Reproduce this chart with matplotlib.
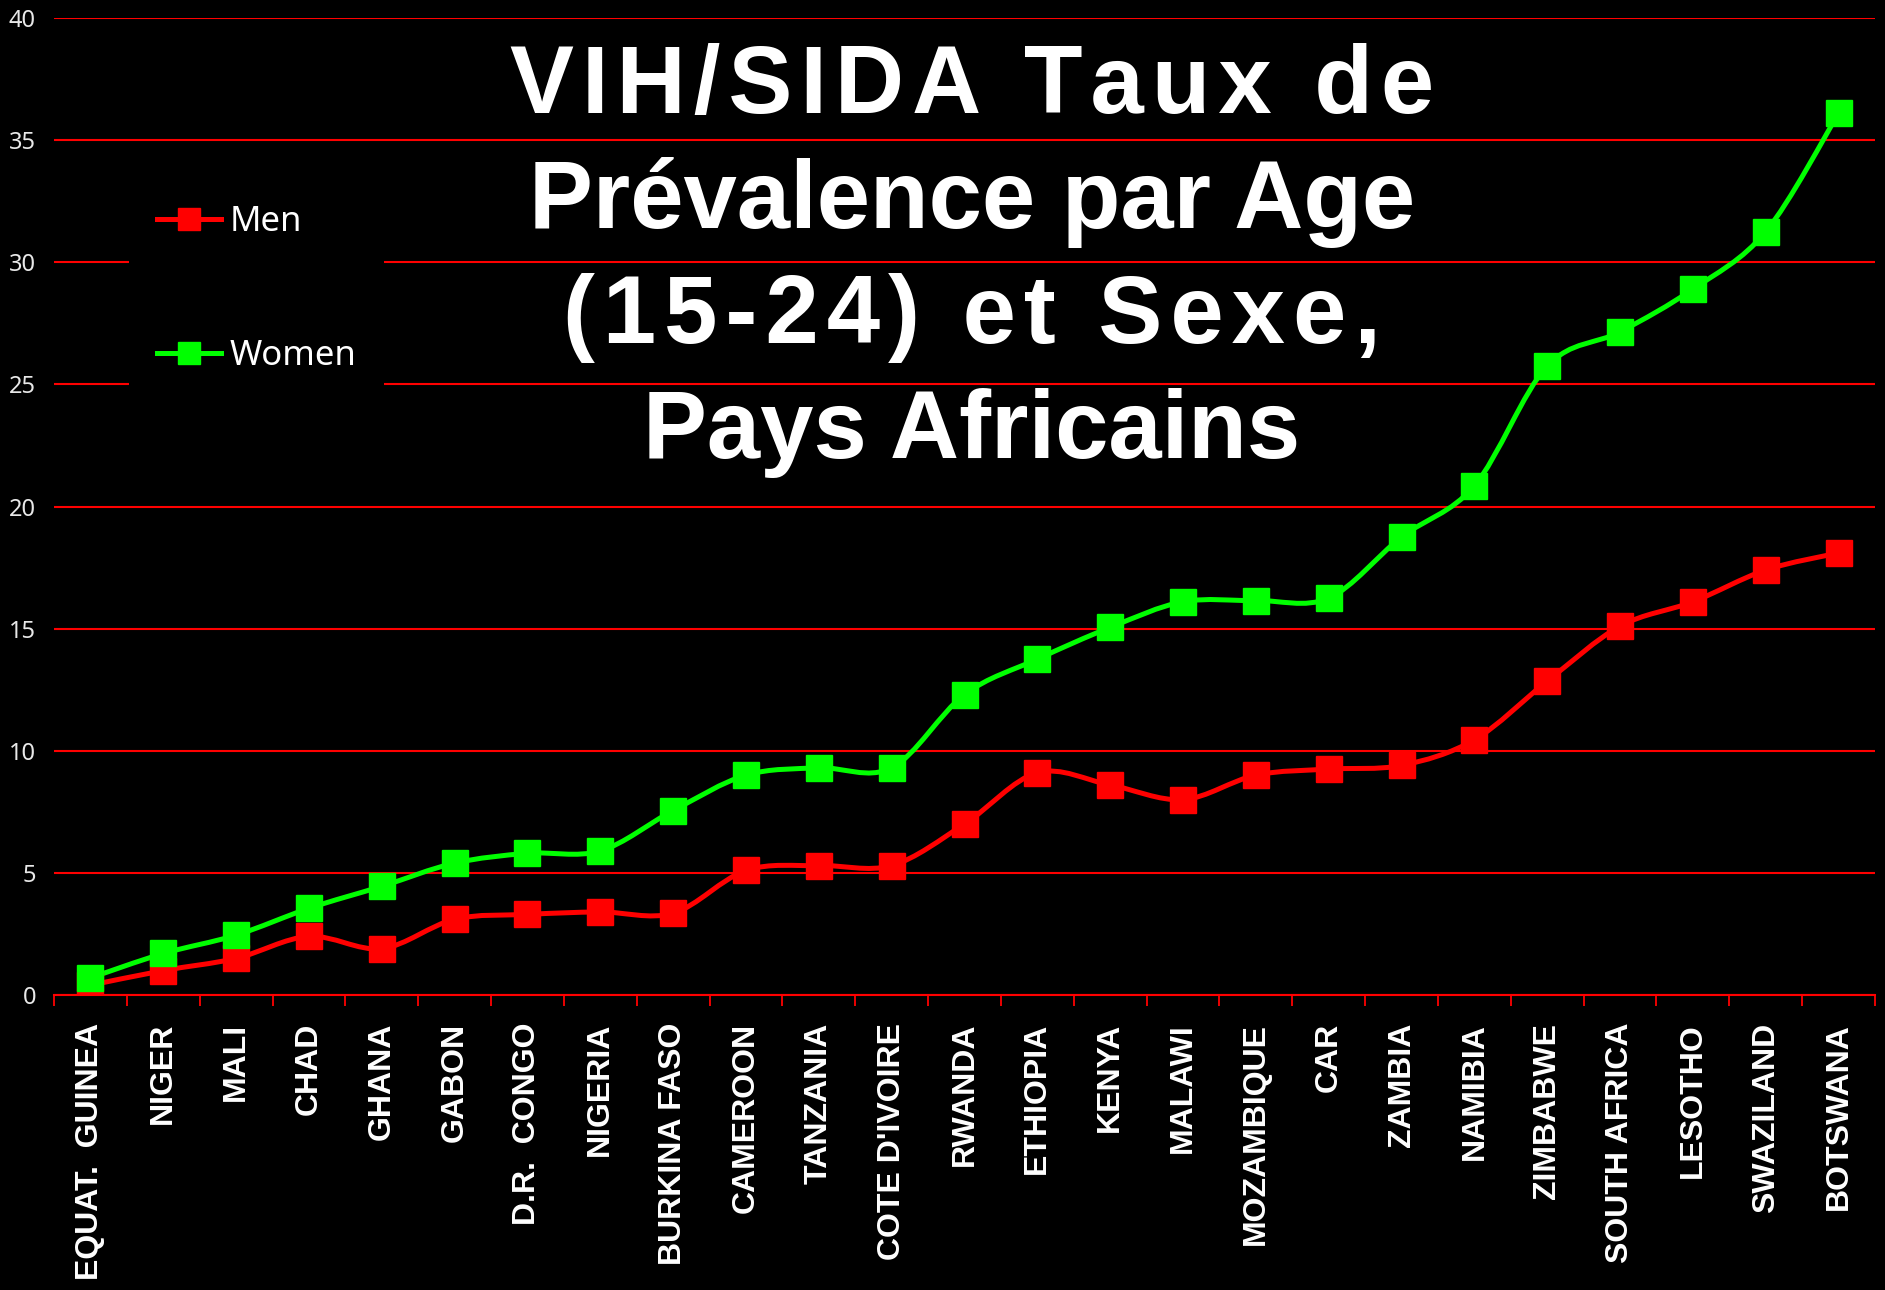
import matplotlib
matplotlib.use("Agg")
import matplotlib.pyplot as plt
from matplotlib.path import Path
from matplotlib.patches import PathPatch
from matplotlib.lines import Line2D
import numpy as np

countries = ["EQUAT.  GUINEA", "NIGER", "MALI", "CHAD", "GHANA", "GABON",
             "D.R.  CONGO", "NIGERIA", "BURKINA FASO", "CAMEROON", "TANZANIA",
             "COTE D'IVOIRE", "RWANDA", "ETHIOPIA", "KENYA", "MALAWI",
             "MOZAMBIQUE", "CAR", "ZAMBIA", "NAMIBIA", "ZIMBABWE",
             "SOUTH AFRICA", "LESOTHO", "SWAZILAND", "BOTSWANA"]
men = [0.4, 1.0, 1.5, 2.4, 1.9, 3.1, 3.3, 3.4, 3.35, 5.1, 5.3, 5.3, 7.0,
       9.1, 8.6, 8.0, 9.0, 9.25, 9.4, 10.45, 12.85, 15.1, 16.1, 17.4, 18.1]
women = [0.7, 1.7, 2.45, 3.55, 4.45, 5.4, 5.8, 5.9, 7.55, 9.0, 9.3, 9.3,
         12.3, 13.75, 15.05, 16.1, 16.15, 16.25, 18.75, 20.85, 25.75, 27.15,
         28.9, 31.25, 36.1]
yticks = [0, 5, 10, 15, 20, 25, 30, 35, 40]
title_lines = ["VIH/SIDA Taux de", "Prévalence par Age", "(15-24) et Sexe,", "Pays Africains"]

W, H = 1885, 1290
fig = plt.figure(figsize=(W / 100, H / 100), dpi=100, facecolor="black")
ax = fig.add_axes([54 / W, 1 - 995 / H, (1875 - 54) / W, (995 - 18) / H])
ax.set_facecolor("black")

RED = "#ff0000"
GREEN = "#00ff00"


def smooth_path(xs, ys):
    verts = [(xs[0], ys[0])]
    codes = [Path.MOVETO]
    n = len(xs)
    for i in range(n - 1):
        x0, y0 = (xs[i - 1], ys[i - 1]) if i > 0 else (xs[i], ys[i])
        x1, y1 = xs[i], ys[i]
        x2, y2 = xs[i + 1], ys[i + 1]
        x3, y3 = (xs[i + 2], ys[i + 2]) if i + 2 < n else (x2, y2)
        verts += [(x1 + (x2 - x0) / 6, y1 + (y2 - y0) / 6),
                  (x2 - (x3 - x1) / 6, y2 - (y3 - y1) / 6),
                  (x2, y2)]
        codes += [Path.CURVE4] * 3
    return Path(verts, codes)


x = np.arange(len(countries))
for vals, col in [(men, RED), (women, GREEN)]:
    ax.add_patch(PathPatch(smooth_path(x, vals), fill=False, edgecolor=col,
                           lw=3.6, capstyle="round", joinstyle="round", zorder=3))
    ax.plot(x, vals, linestyle="none", marker="s", markersize=19,
            color=col, markeredgecolor=col, zorder=4)

ax.set_xlim(-0.5, len(countries) - 0.5)
ax.set_ylim(0, 40)
ax.set_yticks(yticks)
ax.set_yticklabels([str(v) for v in yticks], fontfamily="Noto Sans",
                   fontsize=17, color="#e8e8e8")
ax.tick_params(axis="y", length=0, pad=13)
ax.yaxis.grid(True, color=RED, lw=1.5)
ax.set_axisbelow(True)

ax.set_xticks(x)
ax.set_xticklabels(countries, rotation=90, fontfamily="Liberation Sans",
                   fontweight="bold", fontsize=23, color="white")
ax.set_xticks(np.arange(len(countries) + 1) - 0.5, minor=True)
ax.tick_params(axis="x", which="major", length=0, pad=20)
ax.tick_params(axis="x", which="minor", length=8, width=1.3, color=RED)

for s in ["left", "right", "top"]:
    ax.spines[s].set_visible(False)
ax.spines["bottom"].set_color(RED)
ax.spines["bottom"].set_linewidth(1.5)

handles = [Line2D([], [], color=RED, lw=3.6, marker="s", markersize=16),
           Line2D([], [], color=GREEN, lw=3.6, marker="s", markersize=16)]
leg = ax.legend(handles, ["Men", "Women"], loc="upper left",
                bbox_to_anchor=(129 / W, 1 - 177 / H),
                bbox_transform=fig.transFigure, borderaxespad=0,
                prop={"family": "Noto Sans", "size": 25},
                handlelength=1.85, handletextpad=0.25, labelspacing=2.9,
                borderpad=0.8, frameon=True, facecolor="black",
                edgecolor="none", framealpha=1, fancybox=False)
for t in leg.get_texts():
    t.set_color("white")

HAIR = "\u200a"
baselines = [113, 228, 343, 458]
letter_spaced = [True, False, True, False]
for line, b, sp in zip(title_lines, baselines, letter_spaced):
    txt = HAIR.join(line) if sp else line
    fig.text(972 / W, 1 - b / H, txt, ha="center", va="baseline",
             fontfamily=["Liberation Sans", "DejaVu Sans"], fontweight="bold",
             fontsize=69, color="white", zorder=10)

fig.savefig("out.png", dpi=100, facecolor="black")
